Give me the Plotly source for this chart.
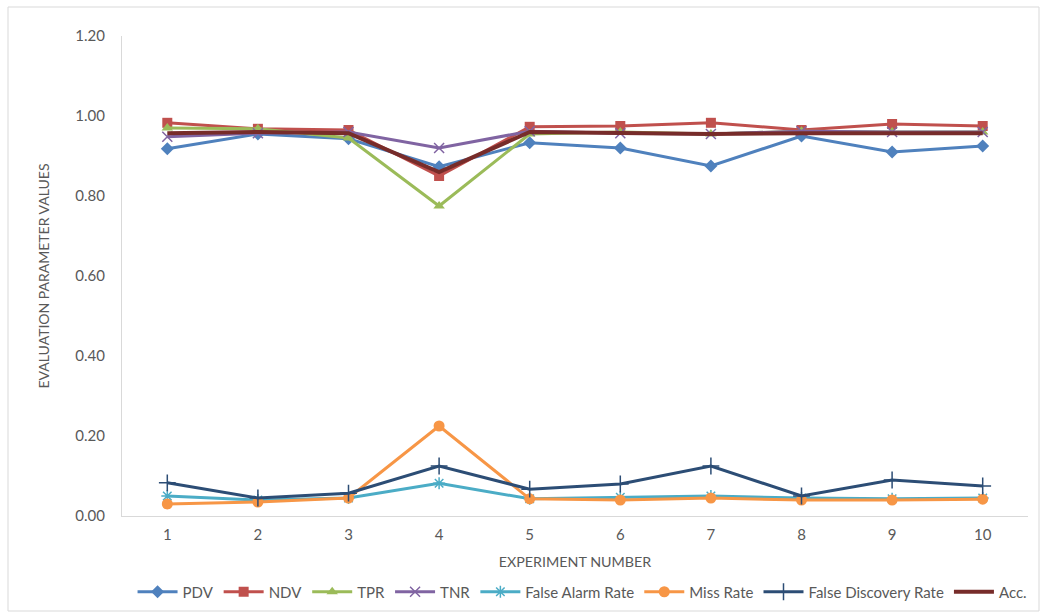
import plotly.graph_objects as go

experiments = [1, 2, 3, 4, 5, 6, 7, 8, 9, 10]

pdv = [0.918, 0.955, 0.943, 0.873, 0.933, 0.920, 0.875, 0.950, 0.910, 0.925]
ndv = [0.983, 0.968, 0.965, 0.850, 0.973, 0.975, 0.983, 0.965, 0.980, 0.975]
tpr = [0.970, 0.968, 0.945, 0.775, 0.955, 0.960, 0.955, 0.962, 0.960, 0.960]
tnr = [0.948, 0.957, 0.960, 0.920, 0.962, 0.957, 0.955, 0.962, 0.960, 0.960]
false_alarm = [0.050, 0.040, 0.045, 0.082, 0.043, 0.047, 0.050, 0.045, 0.043, 0.045]
miss_rate = [0.030, 0.035, 0.045, 0.225, 0.043, 0.040, 0.045, 0.040, 0.040, 0.042]
false_discovery = [0.083, 0.045, 0.057, 0.125, 0.067, 0.080, 0.125, 0.050, 0.090, 0.075]
accuracy = [0.957, 0.960, 0.957, 0.860, 0.960, 0.957, 0.955, 0.957, 0.957, 0.957]

y_ticks = [0.0, 0.2, 0.4, 0.6, 0.8, 1.0, 1.2]
y_tick_labels = ["0.00", "0.20", "0.40", "0.60", "0.80", "1.00", "1.20"]

FONT = "Lato, 'Open Sans', sans-serif"
TEXT = "#595959"

series = [
    ("PDV", pdv, "#4F81BD", dict(symbol="diamond", size=10)),
    ("NDV", ndv, "#C0504D", dict(symbol="square", size=10)),
    ("TPR", tpr, "#9BBB59", dict(symbol="triangle-up", size=10)),
    ("TNR", tnr, "#8064A2", dict(symbol="x-thin", size=10, line=dict(width=1.5, color="#8064A2"))),
    ("False Alarm Rate", false_alarm, "#4BACC6",
     dict(symbol="asterisk", size=10, line=dict(width=1.5, color="#4BACC6"))),
    ("Miss Rate", miss_rate, "#F79646", dict(symbol="circle", size=11)),
    ("False Discovery Rate", false_discovery, "#2C4D75",
     dict(symbol="cross-thin", size=12, line=dict(width=1.5, color="#2C4D75"))),
]

fig = go.Figure()
for name, vals, color, marker in series:
    fig.add_trace(go.Scatter(
        x=experiments, y=vals, name=name, mode="lines+markers",
        line=dict(color=color, width=3),
        marker=dict(color=color, **marker),
    ))

fig.add_trace(go.Scatter(
    x=experiments, y=accuracy, name="Acc.", mode="lines",
    line=dict(color="#772C2A", width=4),
))

# chart-area border
fig.add_shape(type="rect", xref="paper", yref="paper",
              x0=(8 - 122) / 906, x1=(1039 - 122) / 906,
              y0=(516 - 611) / 480, y1=(516 - 7) / 480,
              line=dict(color="#D9D9D9", width=1), fillcolor="rgba(0,0,0,0)",
              layer="below")

fig.update_layout(
    width=1044, height=613,
    margin=dict(l=122, r=16, t=36, b=97, autoexpand=False),
    paper_bgcolor="white", plot_bgcolor="white",
    font=dict(family=FONT, size=15, color=TEXT),
    showlegend=True,
    legend=dict(orientation="h", xref="container", x=0.558, xanchor="center",
                yref="container", y=1 - 592 / 613, yanchor="middle",
                font=dict(size=15, color=TEXT),
                itemwidth=40, tracegroupgap=0),
    xaxis=dict(
        range=[0.5, 10.5], tickmode="array", tickvals=experiments,
        ticktext=[str(v) for v in experiments], automargin=False,
        showgrid=False, zeroline=False, showline=True, linecolor="#D9D9D9",
        linewidth=1, ticks="", ticklabelstandoff=5, tickfont=dict(size=15, color=TEXT),
        title=dict(text="EXPERIMENT NUMBER", font=dict(size=14.3, color=TEXT), standoff=14),
    ),
    yaxis=dict(
        range=[0, 1.2], tickmode="array", tickvals=y_ticks, ticktext=y_tick_labels,
        automargin=False,
        showgrid=False, zeroline=False, showline=True, linecolor="#D9D9D9",
        linewidth=1, ticks="", ticklabelstandoff=13, tickfont=dict(size=15, color=TEXT),
        title=dict(text="EVALUATION PARAMETER VALUES", font=dict(size=14, color=TEXT),
                   standoff=22),
    ),
)

fig.write_html("out.html")
